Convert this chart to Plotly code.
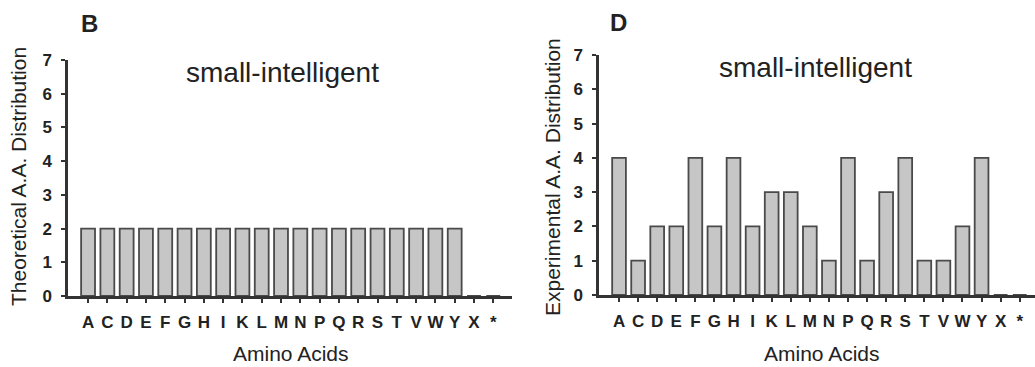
import plotly.graph_objects as go

categories = ["A", "C", "D", "E", "F", "G", "H", "I", "K", "L", "M", "N", "P", "Q", "R", "S", "T", "V", "W", "Y", "X", "*"]
theoretical = [2, 2, 2, 2, 2, 2, 2, 2, 2, 2, 2, 2, 2, 2, 2, 2, 2, 2, 2, 2, 0, 0]
experimental = [4, 1, 2, 2, 4, 2, 4, 2, 3, 3, 2, 1, 4, 1, 3, 4, 1, 1, 2, 4, 0, 0]
y_ticks = [0, 1, 2, 3, 4, 5, 6, 7]

W, H = 1035, 367
FONT = "Liberation Sans, Arial, sans-serif"
BAR_FILL = "#c6c6c6"
BAR_LINE = "#4a4a4a"
AXIS_COL = "#333333"

fig = go.Figure()
fig.add_trace(go.Bar(x=categories, y=theoretical, xaxis="x", yaxis="y", width=0.72,
                     marker=dict(color=BAR_FILL, line=dict(color=BAR_LINE, width=1.8))))
fig.add_trace(go.Bar(x=categories, y=experimental, xaxis="x2", yaxis="y2", width=0.72,
                     marker=dict(color=BAR_FILL, line=dict(color=BAR_LINE, width=1.8))))

def xax(domain, rng, anchor):
    return dict(domain=domain, range=rng, type="category", tickmode="array",
                tickvals=categories, ticktext=categories, showline=True, linecolor=AXIS_COL,
                linewidth=2.5, ticks="outside", ticklen=4, tickcolor=AXIS_COL, tickwidth=1.5,
                showgrid=False, zeroline=False, fixedrange=True, automargin=False, anchor=anchor,
                tickfont=dict(family=FONT, size=17, color="#222", weight="bold"), ticklabelstandoff=5)

def yax(domain, anchor):
    return dict(domain=domain, range=[0, 7], tickvals=y_ticks, showline=True, linecolor=AXIS_COL,
                linewidth=2.5, ticks="outside", ticklen=4, tickcolor=AXIS_COL, tickwidth=1.5,
                showgrid=False, zeroline=False, anchor=anchor, automargin=False, fixedrange=True,
                tickfont=dict(family=FONT, size=17, color="#222", weight="bold"), ticklabelstandoff=6)

fig.update_layout(
    width=W, height=H, margin=dict(l=0, r=0, t=0, b=0, autoexpand=False),
    paper_bgcolor="white", plot_bgcolor="rgba(0,0,0,0)", showlegend=False,
    xaxis=xax([68 / W, 512 / W], [-1.04, 21.97], "y"),
    yaxis=yax([(H - 296) / H, (H - 60) / H], "x"),
    xaxis2=xax([599 / W, 1.0], [-1.05, 21.8], "y2"),
    yaxis2=yax([(H - 295) / H, (H - 55) / H], "x2"),
)

def ann(x, y, text, size, bold=False, angle=0):
    fig.add_annotation(x=x / W, y=1 - y / H, xref="paper", yref="paper", text=f"<b>{text}</b>" if bold else text,
                       showarrow=False, textangle=angle, xanchor="center", yanchor="middle",
                       font=dict(family=FONT, size=size, color="#222"))

ann(89, 24, "B", 24, bold=True)
ann(618, 22, "D", 24, bold=True)
ann(282, 72, "small-intelligent", 28)
ann(815, 67, "small-intelligent", 28)
ann(291, 353, "Amino Acids", 21)
ann(822, 353, "Amino Acids", 21)
ann(18, 177, "Theoretical A.A. Distribution", 21, angle=-90)
ann(552, 177, "Experimental A.A. Distribution", 21, angle=-90)

fig.write_html("out.html", config={"displayModeBar": False},
               post_script="document.body.style.margin='0';document.body.style.overflow='hidden';")
